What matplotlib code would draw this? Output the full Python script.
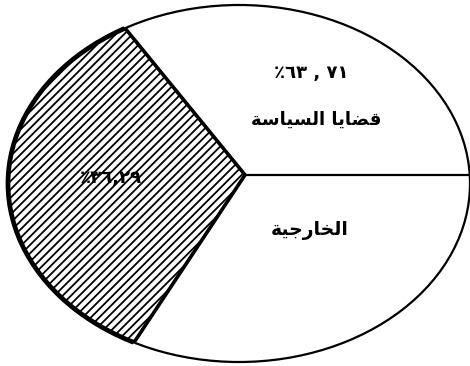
import matplotlib
matplotlib.use("Agg")
import matplotlib.pyplot as plt
from matplotlib.patches import Ellipse

# ---- data ----
shares = [63.71, 36.29]          # foreign-policy issues vs. remainder
label_words = ["قضايا السياسة", "الخارجية"]

# ---- minimal Arabic shaping (presentation forms, visual order) ----
FORMS = {  # isolated, final, initial, medial
    "ا": ("\uFE8D", "\uFE8E", None, None),
    "ة": ("\uFE93", "\uFE94", None, None),
    "ر": ("\uFEAD", "\uFEAE", None, None),
    "ل": ("\uFEDD", "\uFEDE", "\uFEDF", "\uFEE0"),
    "س": ("\uFEB1", "\uFEB2", "\uFEB3", "\uFEB4"),
    "ي": ("\uFEF1", "\uFEF2", "\uFEF3", "\uFEF4"),
    "ق": ("\uFED5", "\uFED6", "\uFED7", "\uFED8"),
    "ض": ("\uFEBD", "\uFEBE", "\uFEBF", "\uFEC0"),
    "خ": ("\uFEA5", "\uFEA6", "\uFEA7", "\uFEA8"),
    "ج": ("\uFE9D", "\uFE9E", "\uFE9F", "\uFEA0"),
}


def shape(text):
    out = []
    for i, ch in enumerate(text):
        if ch not in FORMS:
            out.append(ch)
            continue
        prev = text[i - 1] if i > 0 else None
        nxt = text[i + 1] if i + 1 < len(text) else None
        jp = prev in FORMS and FORMS[prev][2] is not None
        jn = nxt in FORMS and FORMS[ch][2] is not None
        iso, fin, ini, med = FORMS[ch]
        out.append(med if (jp and jn) else ini if jn else fin if jp else iso)
    return "".join(reversed(out))


AR_DIGITS = str.maketrans("0123456789", "٠١٢٣٤٥٦٧٨٩")


def pct(v, sep):
    a, b = f"{v:.2f}".split(".")
    return ("٪" + a + sep + b).translate(AR_DIGITS)


W, H = 470, 366
fig = plt.figure(figsize=(W / 100, H / 100), dpi=100)
ax = fig.add_axes([0, 0, 1, 1])
plt.rcParams["hatch.linewidth"] = 1.3

k = 0.805
vx, vy = 0.021, 0.048
wedges, _ = ax.pie(shares, startangle=-112.4, counterclock=True,
                   center=(vx, vy), radius=1.6,
                   colors=["white", "white"])
ax.set_aspect("auto")
ax.set_xlim(-1.0346 * k, 1.0 * k)
ax.set_ylim(-1.0224, 1.028)
ax.axis("off")

outline = Ellipse((0, 0), 2 * k, 2, fill=False, ec="black", lw=1.6, zorder=5)
ax.add_patch(outline)

white, hatched = wedges
white.set_edgecolor("none")
white.set_clip_on(True)
white.set_clip_path(outline)
hatched.set_hatch("////")
hatched.set_facecolor("white")
hatched.set_edgecolor("black")
hatched.set_linewidth(2.6)
hatched.set_zorder(3)
hatched.set_clip_on(True)
hatched.set_clip_path(outline)

# divider on the white side
ln, = ax.plot([vx, 1.2], [vy, vy], color="black", lw=1.6, zorder=4)
ln.set_clip_path(outline)

thick = Ellipse((0, 0), 2 * k, 2, fill=False, ec="black", lw=3.4, zorder=5)
ax.add_patch(thick)
thick.set_clip_path(hatched)


def px(x, y):
    return x / W, 1 - y / H


fkw = dict(family="DejaVu Sans", weight="bold", color="black",
           ha="center", va="center", transform=fig.transFigure, zorder=6)
fig.text(*px(311, 73), pct(shares[0], " , "), fontsize=13, **fkw)
fig.text(*px(316, 120), shape(label_words[0]), fontsize=13, **fkw)
fig.text(*px(310, 230), shape(label_words[1]), fontsize=13.5, **fkw)
fig.text(*px(111, 178), pct(shares[1], ","), fontsize=13, **fkw)

fig.savefig("out.png", dpi=100)
